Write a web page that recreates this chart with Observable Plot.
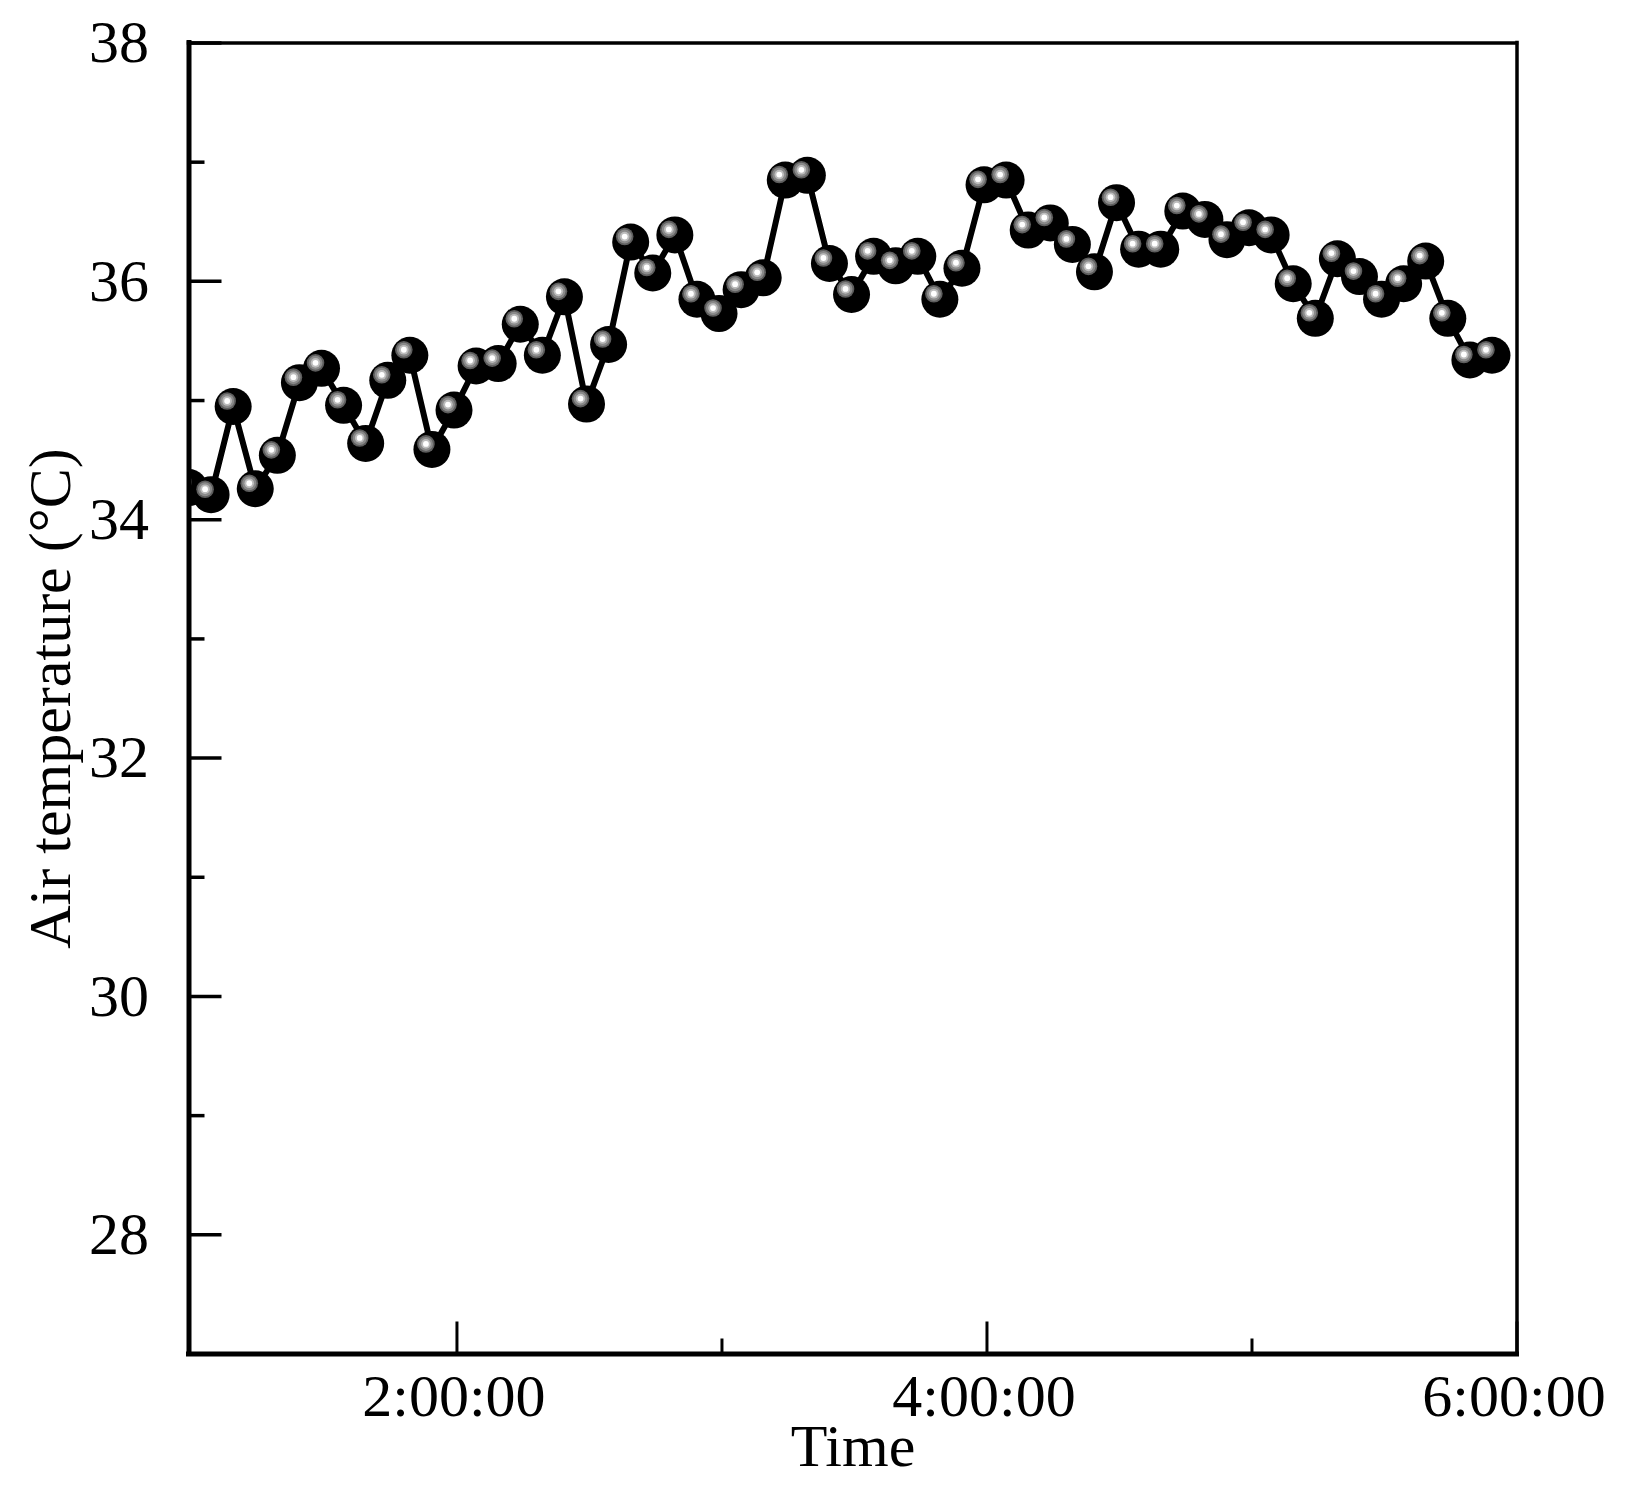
<!DOCTYPE html>
<html>
<head>
<meta charset="utf-8">
<script src="https://cdn.jsdelivr.net/npm/d3@7"></script>
<script src="https://cdn.jsdelivr.net/npm/@observablehq/plot@0.6"></script>
<style>
  html, body { margin: 0; padding: 0; background: #fff; }
  #chart svg { display: block; }
</style>
</head>
<body>
<div id="chart"></div>
<script>
// ---- data ----
const times = [
  "0:59:20","1:04:20","1:09:20","1:14:20","1:19:20","1:24:20","1:29:20","1:34:20","1:39:20","1:44:20",
  "1:49:20","1:54:20","1:59:20","2:04:20","2:09:20","2:14:20","2:19:20","2:24:20","2:29:20","2:34:20",
  "2:39:20","2:44:20","2:49:20","2:54:20","2:59:20","3:04:20","3:09:20","3:14:20","3:19:20","3:24:20",
  "3:29:20","3:34:20","3:39:20","3:44:20","3:49:20","3:54:20","3:59:20","4:04:20","4:09:20","4:14:20",
  "4:19:20","4:24:20","4:29:20","4:34:20","4:39:20","4:44:20","4:49:20","4:54:20","4:59:20","5:04:20",
  "5:09:20","5:14:20","5:19:20","5:24:20","5:29:20","5:34:20","5:39:20","5:44:20","5:49:20","5:54:20"
];
const airTemp = [
  34.27, 34.21, 34.95, 34.26, 34.54, 35.15, 35.27, 34.96, 34.64, 35.17,
  35.38, 34.59, 34.92, 35.29, 35.31, 35.64, 35.38, 35.87, 34.97, 35.47,
  36.33, 36.07, 36.39, 35.85, 35.73, 35.93, 36.03, 36.85, 36.89, 36.15,
  35.89, 36.21, 36.13, 36.21, 35.85, 36.11, 36.81, 36.85, 36.43, 36.49,
  36.31, 36.08, 36.66, 36.27, 36.27, 36.59, 36.52, 36.35, 36.45, 36.39,
  35.98, 35.69, 36.19, 36.04, 35.85, 35.98, 36.17, 35.69, 35.34, 35.38
];
const xDomain = ["0:59:20", "6:00:00"];
const xMajorTicks = ["2:00:00", "4:00:00", "6:00:00"];
const xMinorTicks = ["3:00:00", "5:00:00"];
const yDomain = [27, 38];
const yMajorTicks = [28, 30, 32, 34, 36, 38];
const yMinorTicks = [29, 31, 33, 35, 37];
const xLabel = "Time";
const yLabel = "Air temperature (°C)";

// ---- helpers ----
const parseT = s => { const [h, m, sec] = s.split(":").map(Number); return new Date(Date.UTC(1970, 0, 1, h, m, sec)); };
const data = times.map((t, i) => ({time: parseT(t), temp: airTemp[i]}));
const xd = xDomain.map(parseT);
const fmt = d3.utcFormat("%-H:%M:%S");

const W = 1627, H = 1489;
const mL = 188.5, mR = 110.5, mT = 42.5, mB = 135.5;
const innerW = W - mL - mR, innerH = H - mT - mB;
const FONT = "Liberation Serif, Times New Roman, serif";
const FS = 60;
const HX = -6, HY = -5.5;

const chart = Plot.plot({
  width: W,
  height: H,
  marginLeft: mL,
  marginRight: mR,
  marginTop: mT,
  marginBottom: mB,
  style: {fontFamily: FONT, fontSize: FS + "px", color: "#000", background: "#fff", overflow: "visible"},
  x: {type: "utc", domain: xd},
  y: {domain: yDomain},
  marks: [
    // inward ticks
    Plot.tickX(xMajorTicks.map(parseT), {x: d => d, stroke: "#000", strokeWidth: 3, insetTop: innerH - 32}),
    Plot.tickX(xMinorTicks.map(parseT), {x: d => d, stroke: "#000", strokeWidth: 3, insetTop: innerH - 15}),
    Plot.tickY(yMajorTicks, {y: d => d, stroke: "#000", strokeWidth: 3.5, insetRight: innerW - 33}),
    Plot.tickY(yMinorTicks, {y: d => d, stroke: "#000", strokeWidth: 3.5, insetRight: innerW - 16}),
    // axes labels
    Plot.axisX({
      ticks: xMajorTicks.map(parseT), tickFormat: fmt, tickSize: 0, tickPadding: 19, dx: -3,
      fontSize: FS, label: xLabel, labelAnchor: "center", labelOffset: 112, labelArrow: "none"
    }),
    Plot.axisY({
      ticks: yMajorTicks, tickSize: 0, tickPadding: 40, fontSize: FS,
      label: yLabel, labelAnchor: "center", labelOffset: 162, labelArrow: "none"
    }),
    // data
    Plot.line(data, {x: "time", y: "temp", stroke: "#000", strokeWidth: 6, clip: true}),
    Plot.dot(data, {x: "time", y: "temp", r: 18.5, fill: "#000", stroke: "none", clip: true}),
    Plot.dot(data, {x: "time", y: "temp", r: 8.8, fill: "#5e5e5e", stroke: "none", dx: HX, dy: HY, clip: true}),
    Plot.dot(data, {x: "time", y: "temp", r: 7.0, fill: "#8a8a8a", stroke: "none", dx: HX, dy: HY, clip: true}),
    Plot.dot(data, {x: "time", y: "temp", r: 4.8, fill: "#bdbdbd", stroke: "none", dx: HX, dy: HY, clip: true}),
    Plot.dot(data, {x: "time", y: "temp", r: 2.9, fill: "#ffffff", stroke: "none", dx: HX, dy: HY, clip: true}),
    // frame
    Plot.ruleY([yDomain[1]], {stroke: "#000", strokeWidth: 3.5, strokeLinecap: "square"}),
    Plot.ruleX([xd[1]], {stroke: "#000", strokeWidth: 3.5, strokeLinecap: "square"}),
    Plot.ruleY([yDomain[0]], {stroke: "#000", strokeWidth: 5, strokeLinecap: "square"}),
    Plot.ruleX([xd[0]], {stroke: "#000", strokeWidth: 5, strokeLinecap: "square"})
  ]
});
document.getElementById("chart").appendChild(chart);
</script>
</body>
</html>
